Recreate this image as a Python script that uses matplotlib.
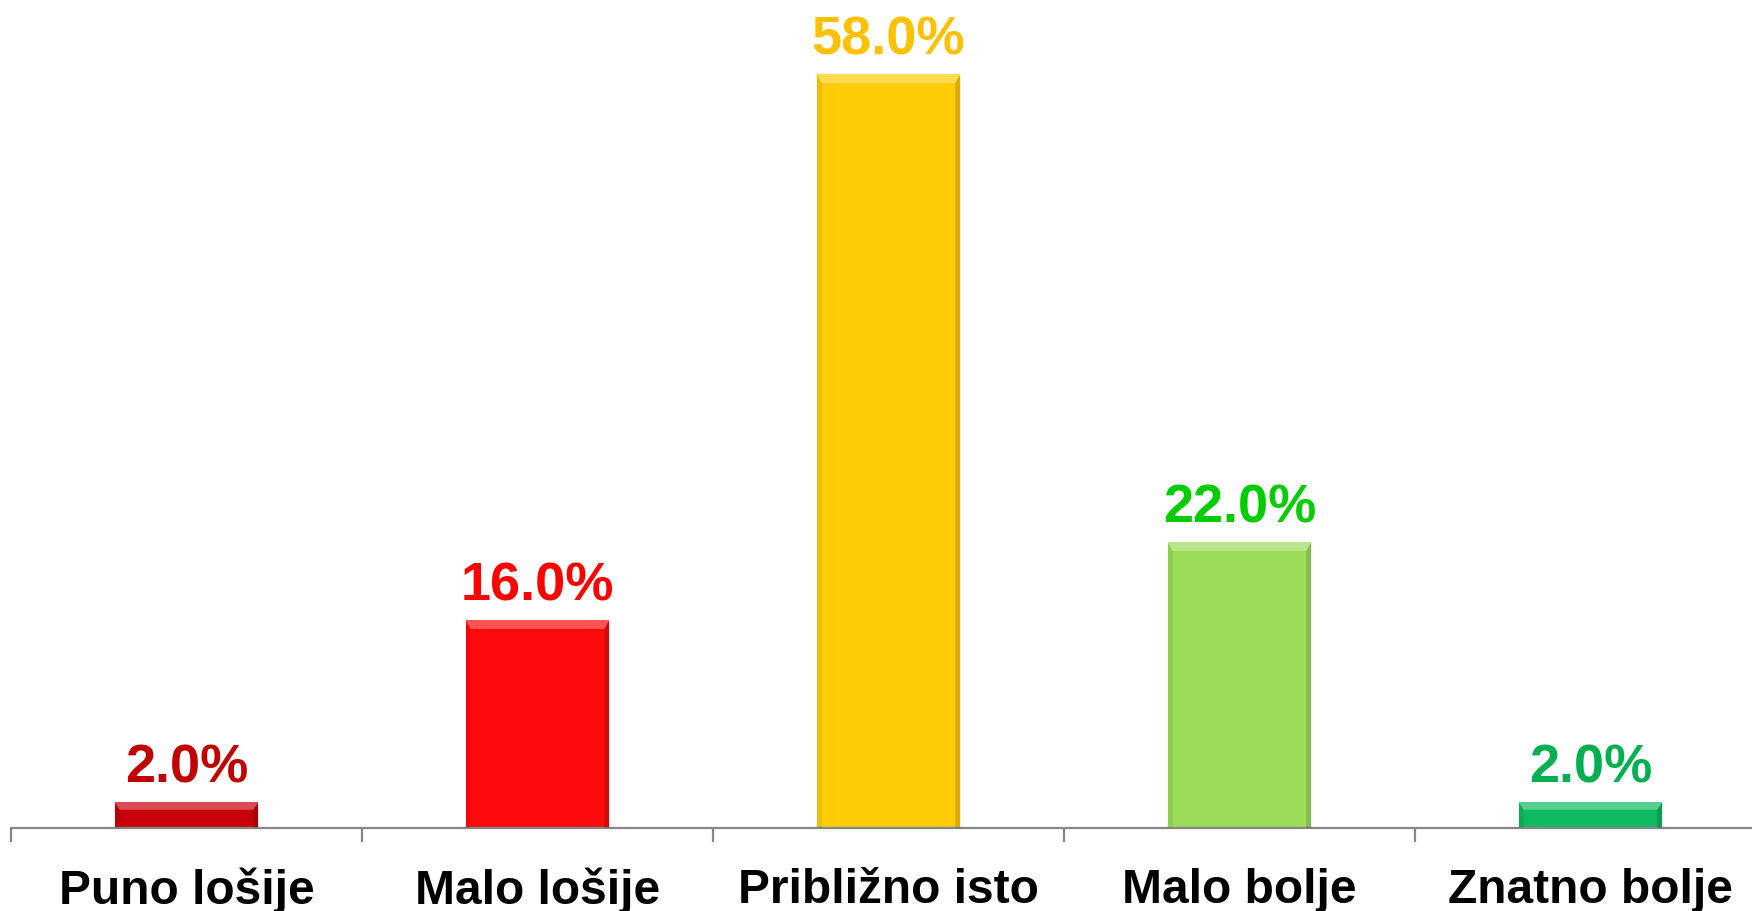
import numpy as np
import matplotlib.pyplot as plt
from matplotlib.patches import Polygon

plt.rcParams["font.family"] = ["Liberation Sans", "DejaVu Sans"]

# podaci
kategorije = ["Puno lošije", "Malo lošije", "Približno isto", "Malo bolje", "Znatno bolje"]
postotci = [2.0, 16.0, 58.0, 22.0, 2.0]
boje_stupaca = ["#C8000A", "#FF0A0A", "#FFCC08", "#9DDC58", "#0DBA5E"]
boje_oznaka = ["#C00000", "#FF0000", "#FFC000", "#00CC00", "#00B050"]

fig = plt.figure(figsize=(17.52, 9.12), dpi=100)
ax = fig.add_axes([11 / 1752, 83 / 912, 1755 / 1752, 780 / 912])

x = np.arange(len(kategorije))
sirina = 0.41
bars = ax.bar(x, postotci, width=sirina, color=boje_stupaca,
              edgecolor="none", zorder=2)

# malo "bevel" efekta na rubovima stupaca
for b, boja in zip(bars, boje_stupaca):
  x0, y0 = b.get_x(), b.get_y()
  w, h = b.get_width(), b.get_height()
  dx = 0.015
  dy = min(0.7, h * 0.3)
  # gornji svijetli rub
  ax.add_patch(Polygon([[x0, y0 + h], [x0 + w, y0 + h], [x0 + w - dx, y0 + h - dy], [x0 + dx, y0 + h - dy]],
                       closed=True, facecolor="white", alpha=0.3, edgecolor="none", zorder=3))
  # desni tamni rub
  ax.add_patch(Polygon([[x0 + w, y0], [x0 + w, y0 + h], [x0 + w - dx, y0 + h - dy], [x0 + w - dx, y0]],
                       closed=True, facecolor="black", alpha=0.15, edgecolor="none", zorder=3))
  # lijevi rub
  ax.add_patch(Polygon([[x0, y0], [x0, y0 + h], [x0 + dx, y0 + h - dy], [x0 + dx, y0]],
                       closed=True, facecolor="black", alpha=0.07, edgecolor="none", zorder=3))

for xi, v, c in zip(x, postotci, boje_oznaka):
  ax.annotate(f"{v:.1f}%", (xi, v), xytext=(0, 15), textcoords="offset points",
              ha="center", va="baseline", fontsize=39, fontweight="bold", color=c)

ax.set_xlim(-0.5, len(kategorije) - 0.5)
ax.set_ylim(0, 60)

for s in ["top", "left", "right"]:
  ax.spines[s].set_visible(False)
ax.spines["bottom"].set_color("#868686")
ax.spines["bottom"].set_linewidth(1.6)

ax.set_yticks([])
ax.set_xticks(x)
ax.set_xticklabels(kategorije, fontsize=34.5, fontweight="bold")
ax.tick_params(axis="x", which="major", length=0, pad=28)
ax.set_xticks(np.arange(-0.5, len(kategorije), 1.0), minor=True)
ax.tick_params(axis="x", which="minor", length=10, width=1.6, color="#868686", direction="out")

fig.savefig("out.png", dpi=100)
